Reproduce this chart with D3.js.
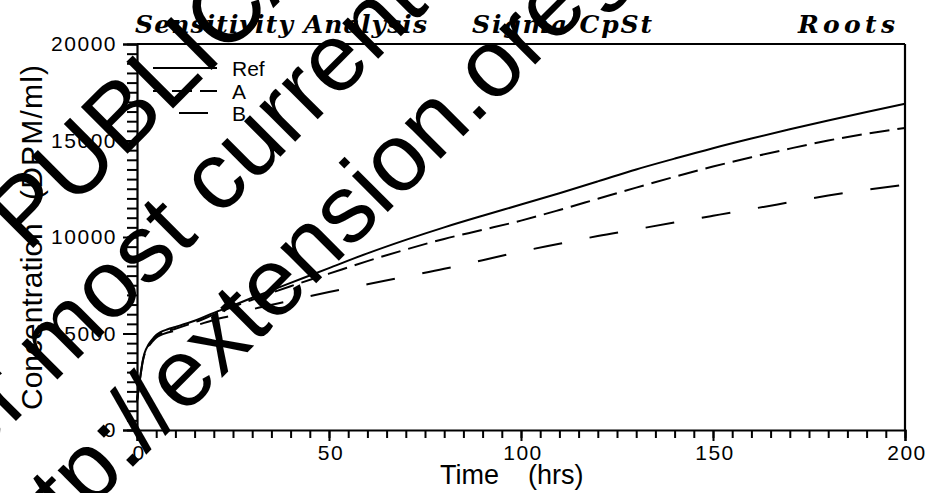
<!DOCTYPE html>
<html>
<head>
<meta charset="utf-8">
<script src="https://cdn.jsdelivr.net/npm/d3@7"></script>
<style>
  html, body { margin: 0; padding: 0; background: #fff; }
  svg { display: block; }
  .tick text { font-family: "Liberation Sans", Arial, sans-serif; font-size: 21px; letter-spacing: 1.5px; fill: #000; }
</style>
</head>
<body>
<svg id="chart" width="927" height="493"></svg>
<script>
// Simulated root concentration over time for three parameter settings
const hours = [0, 0.5, 1, 1.5, 2, 3, 4, 5, 6, 8, 10, 15, 20, 25, 30, 40, 50, 60, 70, 80, 90, 100, 110, 120, 130, 140, 150, 160, 170, 180, 190, 200];
const refValues = [1500, 2250, 2950, 3600, 4000, 4430, 4700, 4920, 5060, 5220, 5340, 5660, 6070, 6450, 6850, 7620, 8390, 9150, 9850, 10500, 11100, 11680, 12270, 12880, 13500, 14060, 14600, 15100, 15580, 16040, 16480, 16900];
const aValues   = [1500, 2250, 2950, 3550, 3950, 4380, 4640, 4850, 4980, 5130, 5250, 5580, 5980, 6380, 6750, 7450, 8100, 8750, 9350, 9900, 10370, 10850, 11400, 11980, 12560, 13120, 13650, 14130, 14580, 15000, 15350, 15650];
const bValues   = [1500, 2250, 2950, 3500, 3900, 4330, 4580, 4780, 4900, 5050, 5150, 5400, 5700, 5950, 6250, 6700, 7150, 7550, 7950, 8350, 8800, 9250, 9650, 10050, 10400, 10750, 11100, 11450, 11800, 12150, 12450, 12700];

const seriesNames = ["Ref", "A", "B"];
const seriesDash = ["none", "20,8", "29,28"];

const xMajorTicks = [0, 50, 100, 150, 200];
const yMajorTicks = [0, 5000, 10000, 15000, 20000];

const titleLeft = "Sensitivity Analysis";
const titleMid = "Sigma CpSt";
const titleRight = "Roots";
const xLabel = ["Time", "(hrs)"];
const yLabel = ["Concentration", "(DPM/ml)"];

const noticeLines = [
  "THIS PUBLICATION IS OUT OF DATE.",
  "For most current information:",
  "http://extension.oregonstate.edu/catalog"
];

const svg = d3.select("#chart");
svg.append("rect").attr("width", 927).attr("height", 493).attr("fill", "#fff");

const x = d3.scaleLinear().domain([0, 200]).range([137, 905]);
const y = d3.scaleLinear().domain([0, 20000]).range([430, 44]);

const sans = '"Liberation Sans", Arial, Helvetica, sans-serif';
const serif = '"DejaVu Serif", "Liberation Serif", serif';

// minor ticks
svg.append("g").attr("transform", "translate(0,430)")
  .call(d3.axisBottom(x).tickValues(d3.range(0, 201, 5)).tickSize(8).tickFormat(""))
  .call(g => g.select(".domain").remove())
  .call(g => g.selectAll("line").attr("stroke", "#000").attr("stroke-width", 2));
svg.append("g").attr("transform", "translate(137,0)")
  .call(d3.axisLeft(y).tickValues(d3.range(0, 20001, 500)).tickSize(10).tickFormat(""))
  .call(g => g.select(".domain").remove())
  .call(g => g.selectAll("line").attr("stroke", "#000").attr("stroke-width", 2));

// major ticks with labels
svg.append("g").attr("transform", "translate(0,430)")
  .call(d3.axisBottom(x).tickValues(xMajorTicks).tickSize(11).tickPadding(4).tickFormat(d3.format("d")))
  .call(g => g.select(".domain").attr("stroke", "#000").attr("stroke-width", 2.2))
  .call(g => g.selectAll("line").attr("stroke", "#000").attr("stroke-width", 2))
  .call(g => g.selectAll("text").attr("dx", "0.07em"));
svg.append("g").attr("transform", "translate(137,0)")
  .call(d3.axisLeft(y).tickValues(yMajorTicks).tickSize(14).tickPadding(6).tickFormat(d3.format("d")))
  .call(g => g.select(".domain").attr("stroke", "#000").attr("stroke-width", 2.2))
  .call(g => g.selectAll("line").attr("stroke", "#000").attr("stroke-width", 2));

// top and right frame
svg.append("line").attr("x1", x(0)).attr("x2", x(200)).attr("y1", y(20000)).attr("y2", y(20000))
  .attr("stroke", "#000").attr("stroke-width", 2.2);
svg.append("line").attr("x1", x(200)).attr("x2", x(200)).attr("y1", y(20000)).attr("y2", y(0))
  .attr("stroke", "#000").attr("stroke-width", 2.2);

// curves
const series = [refValues, aValues, bValues];
const line = d3.line()
  .x((d, i) => x(hours[i]))
  .y(d => y(d))
  .curve(d3.curveMonotoneX);

series.forEach((vals, k) => {
  svg.append("path")
    .datum(vals)
    .attr("d", line)
    .attr("fill", "none")
    .attr("stroke", "#000")
    .attr("stroke-width", 2)
    .attr("stroke-dasharray", seriesDash[k]);
});

// legend
const legendY = [68, 91, 113];
const legendOffset = [0, 9, 31];
seriesNames.forEach((name, k) => {
  svg.append("line")
    .attr("x1", 153).attr("x2", 217)
    .attr("y1", legendY[k]).attr("y2", legendY[k])
    .attr("stroke", "#000").attr("stroke-width", 2)
    .attr("stroke-dasharray", seriesDash[k])
    .attr("stroke-dashoffset", legendOffset[k]);
  svg.append("text")
    .attr("x", 232).attr("y", legendY[k] + 8)
    .attr("font-family", sans).attr("font-size", 21)
    .text(name);
});

// titles
const titleFont = sel => sel
  .attr("font-family", serif).attr("font-style", "italic").attr("font-weight", "bold")
  .attr("font-size", 25).attr("lengthAdjust", "spacing");
svg.append("text").attr("x", 135).attr("y", 33).call(titleFont)
  .attr("textLength", 292).text(titleLeft);
svg.append("text").attr("x", 472).attr("y", 33).call(titleFont)
  .attr("textLength", 180).text(titleMid);
svg.append("text").attr("x", 798).attr("y", 33).call(titleFont)
  .attr("textLength", 97).text(titleRight);

// axis titles
const xt = svg.append("text").attr("y", 484)
  .attr("font-family", sans).attr("font-size", 27);
xt.append("tspan").attr("x", 440).text(xLabel[0]);
xt.append("tspan").attr("x", 528).text(xLabel[1]);

const yt = svg.append("text")
  .attr("transform", "translate(42,410) rotate(-90)")
  .attr("font-family", sans).attr("font-size", 30);
yt.append("tspan").attr("x", 0).text(yLabel[0]);
yt.append("tspan").attr("x", 210).attr("textLength", 135).attr("lengthAdjust", "spacing").text(yLabel[1]);

// diagonal notice printed over the figure
const noticeBaselines = [199, 309, 424];
const notice = svg.append("g").attr("transform", "rotate(-45)");
noticeLines.forEach((t, i) => {
  notice.append("text")
    .attr("x", -405).attr("y", noticeBaselines[i])
    .attr("font-family", sans).attr("font-size", 96)
    .attr("fill", "#000")
    .text(t);
});
</script>
</body>
</html>
